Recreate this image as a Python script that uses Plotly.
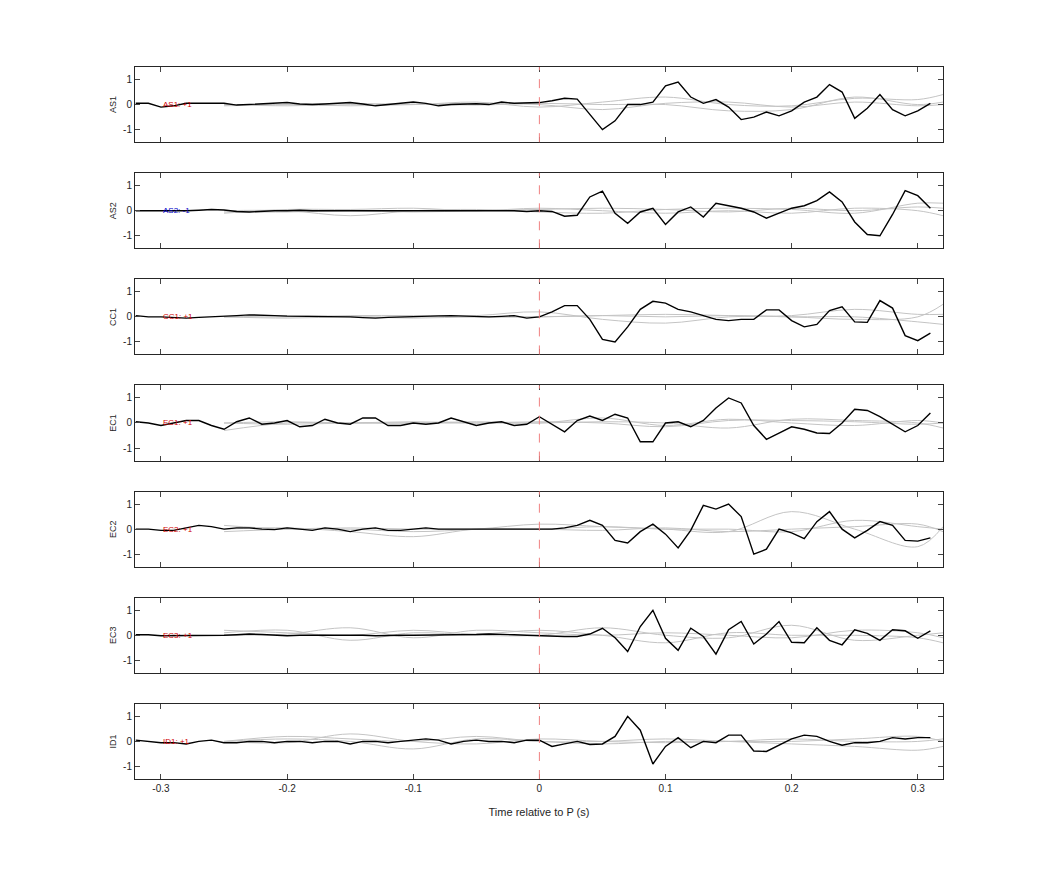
import numpy as np
import plotly.graph_objects as go
from plotly.subplots import make_subplots

stations = ["AS1", "AS2", "CC1", "EC1", "EC2", "EC3", "ID1"]
labels = ["AS1: +1", "AS2: -1", "CC1: +1", "EC1: +1", "EC2: +1", "EC3: +1", "ID1: +1"]
label_colors = ["#d00000", "#0000c8", "#d00000", "#d00000", "#d00000", "#d00000", "#d00000"]
x_ticks = [-0.3, -0.2, -0.1, 0, 0.1, 0.2, 0.3]
x_tick_text = ["-0.3", "-0.2", "-0.1", "0", "0.1", "0.2", "0.3"]
y_ticks = [-1, 0, 1]
y_tick_text = ["-1", "0", "1"]

# time axis: -0.32 .. 0.31 s in 0.01 steps
time = np.round(np.arange(-32, 32) * 0.01, 2)

as1 = [0.05, 0.05, -0.1, -0.05, 0.05, 0.05, 0.05, 0.05, -0.02, 0.0, 0.02, 0.05, 0.08, 0.02, 0.0, 0.02,
       0.05, 0.08, 0.02, -0.05, 0.0, 0.05, 0.1, 0.05, -0.05, 0.0, 0.02, 0.03, 0.0, 0.1, 0.05, 0.05,
       0.08, 0.15, 0.25, 0.22, -0.4, -1.0, -0.65, 0.0, 0.0, 0.1, 0.75, 0.9, 0.3, 0.05, 0.2, -0.1,
       -0.6, -0.5, -0.3, -0.45, -0.25, 0.1, 0.3, 0.8, 0.5, -0.55, -0.15, 0.4, -0.2, -0.45, -0.25, 0.05]
as2 = [0.0, 0.0, 0.0, -0.02, 0.0, 0.02, 0.05, 0.03, -0.03, -0.05, -0.02, 0.0, 0.0, 0.02, 0.0, 0.0,
       0.0, 0.02, 0.0, 0.02, 0.0, 0.0, 0.02, 0.03, 0.02, 0.0, 0.0, 0.0, 0.02, 0.0, 0.0, -0.03,
       0.0, -0.03, -0.22, -0.18, 0.55, 0.78, -0.1, -0.5, -0.05, 0.1, -0.55, -0.05, 0.15, -0.25, 0.3, 0.2,
       0.1, -0.05, -0.3, -0.1, 0.1, 0.2, 0.4, 0.75, 0.35, -0.45, -0.95, -1.0, -0.15, 0.8, 0.6, 0.1]
cc1 = [0.05, 0.0, 0.0, -0.02, -0.05, -0.02, 0.0, 0.0, 0.05, 0.08, 0.05, 0.05, 0.03, 0.03, 0.02, 0.0,
       0.0, 0.0, -0.03, -0.05, -0.02, 0.0, 0.0, 0.02, 0.04, 0.05, 0.03, 0.02, 0.0, 0.02, 0.05, -0.05,
       0.0, 0.2, 0.45, 0.45, -0.1, -0.9, -1.0, -0.4, 0.3, 0.62, 0.55, 0.3, 0.2, 0.05, -0.1, -0.15,
       -0.1, -0.1, 0.28, 0.28, -0.15, -0.4, -0.3, 0.25, 0.4, -0.2, -0.22, 0.65, 0.35, -0.75, -0.95, -0.65]
ec1 = [0.05, 0.0, -0.1, 0.0, 0.1, 0.1, -0.1, -0.25, 0.05, 0.2, -0.05, 0.0, 0.1, -0.15, -0.1, 0.15,
       0.0, -0.05, 0.2, 0.2, -0.1, -0.1, 0.0, -0.05, 0.0, 0.2, 0.05, -0.1, 0.0, 0.05, -0.1, -0.05,
       0.25, -0.05, -0.35, 0.1, 0.28, 0.1, 0.35, 0.2, -0.75, -0.75, 0.0, 0.05, -0.15, 0.1, 0.6, 1.0,
       0.8, -0.1, -0.65, -0.4, -0.15, -0.25, -0.4, -0.42, 0.0, 0.55, 0.5, 0.25, -0.05, -0.35, -0.1, 0.4]
ec2 = [0.0, 0.0, -0.05, -0.05, 0.05, 0.15, 0.1, 0.0, 0.05, 0.05, 0.0, -0.02, 0.05, 0.0, -0.05, 0.05,
       0.0, -0.1, 0.0, 0.05, -0.05, -0.05, 0.0, 0.05, 0.0, 0.0, 0.0, 0.0, 0.0, 0.0, 0.0, 0.0,
       0.0, 0.0, 0.05, 0.15, 0.35, 0.15, -0.45, -0.55, -0.1, 0.2, -0.2, -0.75, -0.05, 0.95, 0.8, 1.0,
       0.5, -1.0, -0.8, 0.0, -0.15, -0.38, 0.3, 0.7, 0.0, -0.35, -0.05, 0.3, 0.15, -0.45, -0.48, -0.35]
ec3 = [0.02, 0.02, -0.02, -0.02, 0.0, 0.0, 0.0, 0.0, 0.02, 0.05, 0.03, 0.0, -0.02, 0.0, 0.0, 0.02,
       0.02, 0.0, 0.0, -0.02, 0.0, 0.0, 0.0, 0.0, 0.0, 0.0, 0.02, 0.03, 0.05, 0.05, 0.02, 0.0,
       -0.02, -0.05, -0.05, -0.05, 0.05, 0.28, -0.1, -0.65, 0.35, 1.0, -0.12, -0.6, 0.28, -0.05, -0.75, 0.22,
       0.55, -0.35, 0.05, 0.55, -0.28, -0.3, 0.3, -0.2, -0.38, 0.22, 0.08, -0.2, 0.22, 0.18, -0.12, 0.18]
id1 = [0.05, 0.0, -0.05, -0.05, -0.1, 0.0, 0.05, -0.05, -0.05, 0.0, 0.0, -0.05, 0.0, 0.0, -0.05, 0.0,
       0.0, -0.1, 0.0, 0.0, -0.05, 0.0, 0.05, 0.1, 0.05, -0.1, 0.0, 0.05, 0.0, 0.0, -0.05, 0.05,
       0.05, -0.2, -0.1, 0.0, -0.12, -0.1, 0.2, 1.0, 0.45, -0.9, -0.2, 0.15, -0.25, 0.0, -0.05, 0.25,
       0.25, -0.38, -0.4, -0.15, 0.1, 0.25, 0.2, 0.0, -0.15, -0.05, -0.05, 0.0, 0.15, 0.1, 0.15, 0.15]
traces = [as1, as2, cc1, ec1, ec2, ec3, id1]

# grey comparison traces, sampled every 0.05 s from -0.25 s
grey_time = [-0.25, -0.2, -0.15, -0.1, -0.05, 0.0, 0.05, 0.1, 0.15, 0.2, 0.25, 0.3, 0.32]
grey = {
    "AS1": [[0.0, 0.0, -0.05, 0.0, 0.05, 0.0, -0.2, 0.05, 0.1, -0.1, 0.1, -0.05, 0.0],
            [-0.05, 0.0, 0.05, 0.0, 0.1, -0.1, 0.1, 0.3, 0.0, -0.05, 0.25, 0.2, 0.4],
            [0.0, -0.05, 0.0, 0.02, -0.02, 0.05, 0.0, 0.0, -0.25, -0.2, 0.3, 0.0, 0.1]],
    "AS2": [[-0.05, -0.05, 0.0, -0.05, 0.0, 0.05, 0.1, 0.05, -0.05, 0.1, 0.0, 0.15, 0.1],
            [0.0, 0.0, -0.2, 0.0, 0.05, -0.05, -0.1, 0.05, 0.1, 0.05, -0.1, 0.3, 0.3],
            [-0.1, 0.05, 0.05, 0.1, 0.0, 0.1, 0.0, -0.1, 0.0, -0.1, 0.1, 0.0, -0.2]],
    "CC1": [[0.0, 0.05, 0.0, 0.0, 0.05, 0.2, -0.1, -0.25, 0.0, 0.05, 0.3, 0.1, 0.1],
            [0.0, 0.0, 0.05, 0.05, 0.0, 0.0, 0.05, 0.1, 0.05, 0.0, -0.1, 0.0, 0.5],
            [0.0, -0.05, 0.0, -0.05, 0.0, 0.0, 0.05, 0.0, 0.05, 0.0, 0.0, -0.2, -0.3]],
    "EC1": [[-0.3, 0.0, 0.0, 0.05, 0.0, 0.0, 0.05, 0.0, -0.2, 0.15, 0.1, 0.0, -0.2],
            [0.0, 0.05, 0.0, 0.0, 0.05, 0.0, 0.2, -0.1, 0.15, 0.0, -0.1, 0.1, 0.0],
            [0.0, -0.05, 0.0, 0.0, 0.0, 0.05, 0.0, -0.15, 0.1, 0.1, 0.05, -0.05, 0.0]],
    "EC2": [[0.15, 0.0, 0.0, -0.1, 0.0, 0.2, 0.1, 0.0, -0.1, 0.7, 0.0, -0.7, 0.1],
            [0.0, 0.05, -0.1, -0.3, 0.0, 0.0, 0.1, 0.0, 0.0, -0.1, 0.35, 0.1, 0.0],
            [-0.1, 0.0, 0.05, 0.0, 0.0, 0.0, -0.05, 0.05, -0.1, 0.0, 0.1, 0.2, -0.1]],
    "EC3": [[0.2, 0.1, 0.0, 0.2, 0.05, 0.2, 0.0, -0.3, 0.1, 0.0, 0.0, -0.1, -0.3],
            [0.1, 0.2, -0.2, 0.1, 0.0, 0.0, 0.3, 0.0, -0.1, 0.4, -0.2, 0.0, 0.1],
            [0.0, 0.05, 0.3, -0.1, 0.2, 0.1, 0.0, 0.1, 0.0, -0.1, 0.2, 0.1, -0.1]],
    "ID1": [[0.0, 0.2, 0.1, 0.0, 0.2, 0.0, 0.0, 0.1, 0.0, -0.1, -0.2, -0.35, -0.2],
            [0.0, 0.1, 0.0, -0.3, 0.1, 0.0, -0.1, 0.0, 0.0, 0.0, 0.1, 0.2, 0.0],
            [0.0, -0.05, 0.3, 0.0, -0.1, 0.1, 0.0, -0.05, 0.0, 0.1, 0.0, 0.0, 0.1]],
}

fig = make_subplots(rows=7, cols=1, shared_xaxes=True, vertical_spacing=31 / 712)

for i, st in enumerate(stations):
    r = i + 1
    for g in grey[st]:
        fig.add_trace(go.Scatter(x=grey_time, y=g, mode="lines", line=dict(color="#c4c4c4", width=1, shape="spline"),
                                 showlegend=False, hoverinfo="skip"), row=r, col=1)
    fig.add_trace(go.Scatter(x=time, y=traces[i], mode="lines", line=dict(color="black", width=1.4),
                             showlegend=False), row=r, col=1)
    ax = "" if r == 1 else str(r)
    fig.add_shape(type="line", x0=0, x1=0, y0=0, y1=1, xref="x" + ax, yref=f"y{ax} domain",
                  line=dict(color="#f08080", width=1, dash="dash"))
    fig.add_annotation(x=-0.3, y=0, xref="x" + ax, yref="y" + ax, text=labels[i], showarrow=False,
                       xanchor="left", font=dict(size=8, color=label_colors[i]))
    fig.update_yaxes(title=dict(text=st, font=dict(size=9), standoff=4), row=r, col=1)

fig.update_xaxes(range=[-0.3206, 0.32], tickvals=x_ticks, ticktext=x_tick_text,
                 ticks="inside", ticklen=5, mirror="ticks", showline=True, linecolor="#262626",
                 linewidth=1, showgrid=False, zeroline=False, tickfont=dict(size=10))
fig.update_xaxes(title=dict(text="Time relative to P (s)", font=dict(size=11)), row=7, col=1)
fig.update_yaxes(range=[-1.5, 1.5], tickvals=y_ticks, ticktext=y_tick_text, ticks="inside", ticklen=5,
                 mirror="ticks", showline=True, linecolor="#262626", linewidth=1, showgrid=False,
                 zeroline=False, tickfont=dict(size=10))

fig.update_layout(width=1042, height=875, plot_bgcolor="white", paper_bgcolor="white",
                  margin=dict(l=127, r=107, t=59, b=104),
                  font=dict(family="Liberation Sans, Arial, sans-serif", color="#262626"))

fig.write_html("out.html")
